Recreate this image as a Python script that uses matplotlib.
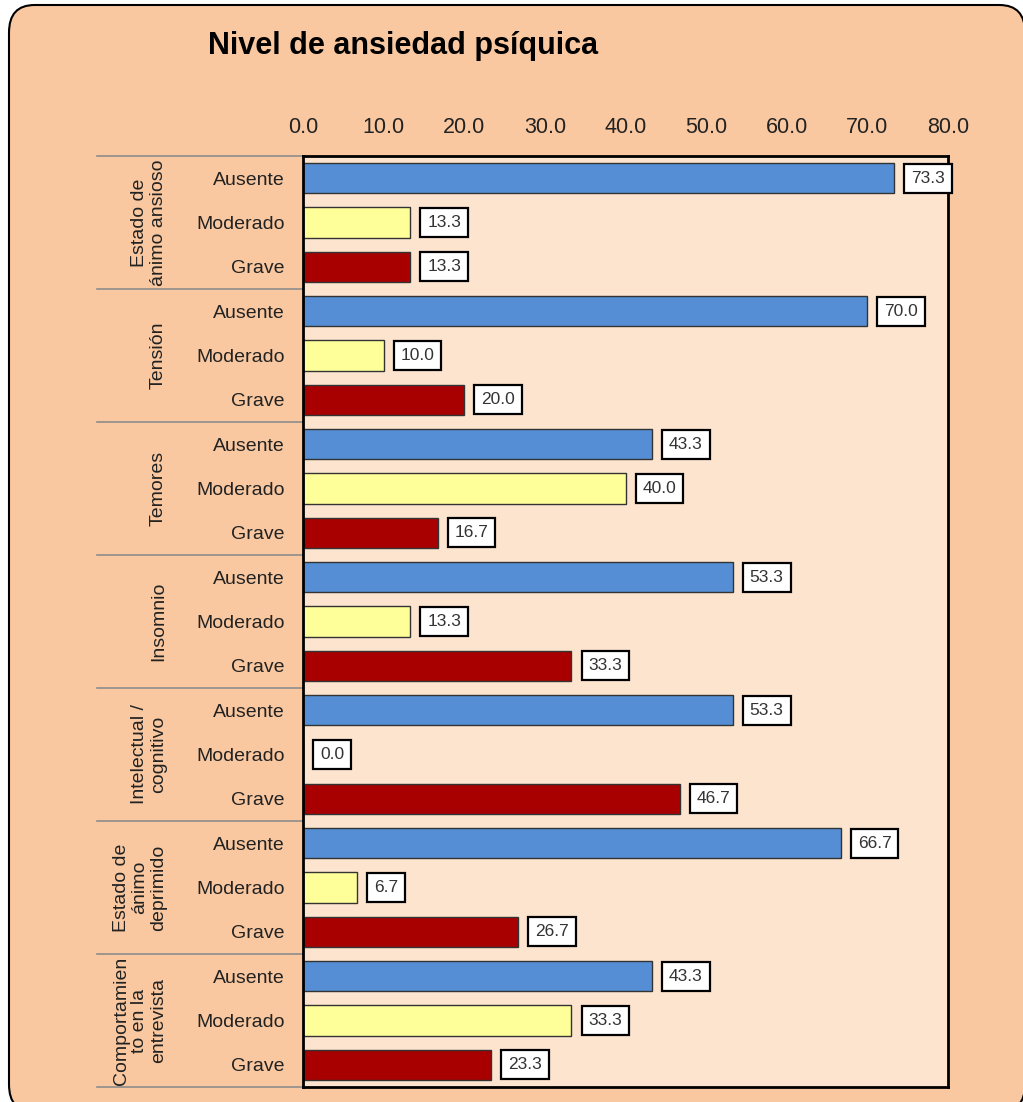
import matplotlib
matplotlib.use("Agg")
import matplotlib.pyplot as plt
from matplotlib.patches import FancyBboxPatch
from matplotlib.lines import Line2D
import matplotlib.transforms as mtransforms
import numpy as np

plt.rcParams['font.family'] = ['Liberation Sans', 'DejaVu Sans']

# data
categorias = ["Estado de\nánimo ansioso", "Tensión", "Temores", "Insomnio",
              "Intelectual /\ncognitivo", "Estado de\nánimo\ndeprimido",
              "Comportamien\nto en la\nentrevista"]
niveles = ["Ausente", "Moderado", "Grave"]
ausente = [73.3, 70.0, 43.3, 53.3, 53.3, 66.7, 43.3]
moderado = [13.3, 10.0, 40.0, 13.3, 0.0, 6.7, 33.3]
grave = [13.3, 20.0, 16.7, 33.3, 46.7, 26.7, 23.3]
xticks = [0, 10, 20, 30, 40, 50, 60, 70, 80]

colores = ["#558ED5", "#FFFF99", "#A80000"]
fondo_fig = "#F9C8A0"
fondo_ax = "#FDE4CF"

W, H = 1023, 1102
fig = plt.figure(figsize=(W / 100, H / 100), dpi=100, facecolor="white")

# outer rounded frame
marco = FancyBboxPatch((9 / W, -10 / H), (1025 - 9) / W, (1097 + 10) / H,
                       boxstyle="round,pad=0,rounding_size=0.025",
                       transform=fig.transFigure, facecolor=fondo_fig,
                       edgecolor="black", linewidth=1.5, zorder=-10)
fig.patches.append(marco)

ax_left, ax_right = 303 / W, 948 / W
ax_top, ax_bot = 1 - 156 / H, 1 - 1087 / H
ax = fig.add_axes([ax_left, ax_bot, ax_right - ax_left, ax_top - ax_bot])
ax.set_facecolor(fondo_ax)

series = [ausente, moderado, grave]
ypos_all, labels_all = [], []
for g in range(len(categorias)):
    for s in range(3):
        y = g * 3 + s
        v = series[s][g]
        ax.barh(y, v, height=0.68, color=colores[s], edgecolor="#333333", linewidth=1)
        ax.annotate(f"{v:.1f}", xy=(v, y), xytext=(17, 0), textcoords="offset pixels",
                    ha="left", va="center", fontsize=12.5, color="#333333",
                    bbox=dict(boxstyle="square,pad=0.4", facecolor="white",
                              edgecolor="black", linewidth=1.6))
        ypos_all.append(y)
        labels_all.append(niveles[s])

ax.set_xlim(0, 80)
ax.set_ylim(len(categorias) * 3 - 0.5, -0.5)
ax.xaxis.tick_top()
ax.set_xticks(xticks)
ax.set_xticklabels([f"{t:.1f}" for t in xticks], fontsize=15.5, color="#222222")
ax.tick_params(axis="x", length=0, pad=13)
ax.set_yticks(ypos_all)
ax.set_yticklabels(labels_all, fontsize=14, color="#222222")
ax.tick_params(axis="y", length=0, pad=13)
for sp in ax.spines.values():
    sp.set_color("black")
    sp.set_linewidth(2)

trans = mtransforms.blended_transform_factory(ax.transAxes, ax.transData)
sep_x0 = (97 - 303) / 645
for g in range(len(categorias) + 1):
    ax.add_line(Line2D([sep_x0, 0], [g * 3 - 0.5] * 2, transform=trans,
                       color="#8C8C8C", linewidth=1.2, clip_on=False))
for g, cat in enumerate(categorias):
    ax.text((167 - 303) / 645, g * 3 + 1, cat, transform=trans, rotation=90,
            ha="right", va="center", multialignment="center",
            fontsize=14, color="#222222", linespacing=1.12)

fig.text(403 / W, 1 - 46 / H, "Nivel de ansiedad psíquica", ha="center", va="center",
         fontsize=22, fontweight="bold", color="black")

fig.savefig("out.png", dpi=100, facecolor=fig.get_facecolor())
